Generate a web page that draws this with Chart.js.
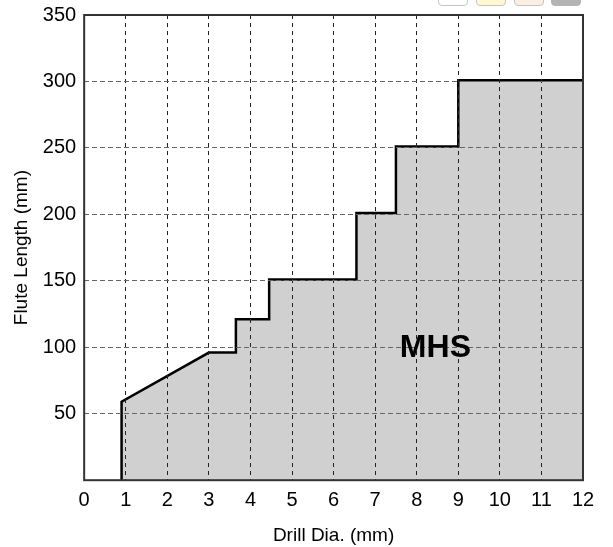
<!DOCTYPE html>
<html>
<head>
<meta charset="utf-8">
<script src="https://cdn.jsdelivr.net/npm/chart.js@4"></script>
<style>
  html, body { margin: 0; padding: 0; background: #fff; }
  #wrap { position: relative; width: 613px; height: 547px; overflow: hidden; }
  canvas { display: block; }
  .btn { position: absolute; top: -14px; width: 28px; height: 18px; border: 1px solid #c4c4c4; border-radius: 4px; background: #fff; }
</style>
</head>
<body>
<div id="wrap">
  <canvas id="myChart" width="613" height="547"></canvas>
  <div class="btn" style="left:438px"></div>
  <div class="btn" style="left:476px;background:#fff8d0"></div>
  <div class="btn" style="left:514px;background:#fbeee2"></div>
  <div class="btn" style="left:551px;background:#b4b4b4;border-color:#b4b4b4"></div>
</div>
<script>
const drillDia = [0.9, 0.9, 3, 3.65, 3.65, 4.45, 4.45, 6.55, 6.55, 7.5, 7.5, 9, 9, 12];
const fluteLength = [0, 59, 96, 96, 121, 121, 151, 151, 201, 201, 251, 251, 301, 301];
const regionLabel = 'MHS';
const regionLabelX = 8.45;
const regionLabelY = 99;

// cadre et texte au dessus de la grille
const overlayPlugin = {
    id: 'overlay',
    afterDraw(chart) {
        const ctx = chart.ctx;
        const area = chart.chartArea;
        ctx.save();
        ctx.strokeStyle = '#333';
        ctx.lineWidth = 2;
        ctx.strokeRect(area.left, area.top, area.right - area.left, area.bottom - area.top);
        ctx.font = 'bold 32px "Liberation Sans"';
        ctx.fillStyle = '#000';
        ctx.textAlign = 'center';
        ctx.textBaseline = 'middle';
        ctx.fillText(regionLabel, chart.scales.x.getPixelForValue(regionLabelX), chart.scales.y.getPixelForValue(regionLabelY));
        ctx.restore();
    }
};

new Chart(document.getElementById('myChart').getContext('2d'), {
    type: 'scatter',
    data: {
        datasets: [{
            data: drillDia.map((x, i) => ({ x: x, y: fluteLength[i] })),
            showLine: true,
            borderColor: '#000',
            borderWidth: 2.5,
            backgroundColor: '#d0d0d0',
            fill: 'origin',
            pointRadius: 0,
            tension: 0
        }]
    },
    options: {
        responsive: false,
        animation: false,
        layout: { padding: { left: 10, right: 30, top: 0, bottom: 0 } },
        plugins: { legend: { display: false }, tooltip: { enabled: false } },
        scales: {
            x: {
                type: 'linear',
                min: 0,
                max: 12,
                grid: { color: '#222', lineWidth: 1, z: 1, drawTicks: false },
                border: { display: false, dash: [4, 4] },
                ticks: { stepSize: 1, color: '#000', padding: 8, font: { family: 'Liberation Sans', size: 20 }, maxRotation: 0 },
                title: { display: true, text: 'Drill Dia. (mm)', color: '#000', padding: { top: 4, bottom: 0 }, font: { family: 'Liberation Sans', size: 19 } }
            },
            y: {
                min: 0,
                max: 350,
                // le haut du cadre doit rester a 15px du bord
                afterFit: scale => { scale.paddingTop = 15; },
                grid: { color: '#666', lineWidth: 1, z: 1, drawTicks: false },
                border: { display: false, dash: [5, 3] },
                ticks: {
                    stepSize: 50,
                    color: '#000',
                    padding: 8,
                    font: { family: 'Liberation Sans', size: 20 },
                    callback: v => (v === 0 ? '' : v)
                },
                title: { display: true, text: 'Flute Length (mm)', color: '#000', padding: { top: 0, bottom: 2 }, font: { family: 'Liberation Sans', size: 19 } }
            }
        }
    },
    plugins: [overlayPlugin]
});
</script>
</body>
</html>
